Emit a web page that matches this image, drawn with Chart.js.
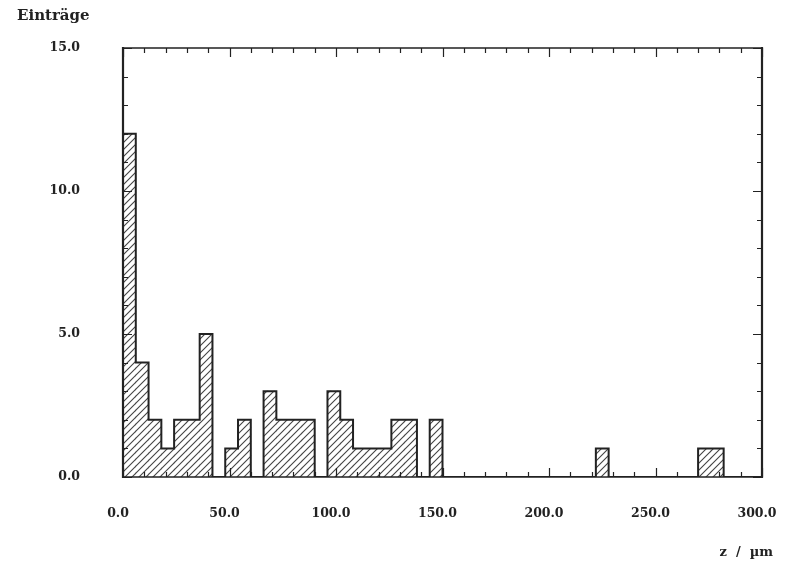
<!DOCTYPE html>
<html>
<head>
<meta charset="utf-8">
<script src="https://cdn.jsdelivr.net/npm/chart.js@4/dist/chart.umd.min.js"></script>
<style>
  html, body { margin: 0; padding: 0; background: #fff; }
  canvas { display: block; }
</style>
</head>
<body>
<canvas id="c" width="786" height="567"></canvas>
<script>
"use strict";

// ── data: histogram of z, 6 µm bins from 0 to 300 ──
const binStart = 0;
const binWidth = 6;
const counts = [
  12, 4, 2, 1, 2, 2, 5, 0, 1, 2,
   0, 3, 2, 2, 2, 0, 3, 2, 1, 1,
   1, 2, 2, 0, 2, 0, 0, 0, 0, 0,
   0, 0, 0, 0, 0, 0, 0, 1, 0, 0,
   0, 0, 0, 0, 0, 1, 1, 0, 0, 0
];
const xRange = [0, 300];
const yRange = [0, 15];
const xLabelStep = 50;
const yLabelStep = 5;

const ink  = "#222";
const FONT = "'DejaVu Serif', 'Liberation Serif', serif";

const canvas = document.getElementById("c");
const ctx = canvas.getContext("2d");

// diagonal hatch "/"
function makeHatch() {
  const t = document.createElement("canvas");
  t.width = t.height = 7;
  const g = t.getContext("2d");
  g.strokeStyle = "#444";
  g.lineWidth = 1.1;
  g.beginPath();
  g.moveTo(0, 7); g.lineTo(7, 0);
  g.moveTo(-1, 1); g.lineTo(1, -1);
  g.moveTo(6, 8); g.lineTo(8, 6);
  g.stroke();
  return ctx.createPattern(t, "repeat");
}

const barPoints = counts.map((c, i) => ({ x: binStart + i * binWidth + binWidth / 2, y: c }));

// step outline through the bin edges
const outline = [{ x: binStart, y: 0 }];
counts.forEach((c, i) => outline.push({ x: binStart + i * binWidth, y: c }));
outline.push({ x: binStart + counts.length * binWidth, y: 0 });

// frame, inner ticks and the two axis captions
const framePlugin = {
  id: "frame",
  afterDatasetsDraw(chart) {
    const { left, right, top, bottom } = chart.chartArea;
    const xs = chart.scales.x, ys = chart.scales.y;
    const g = chart.ctx;
    g.save();
    g.strokeStyle = ink;

    g.lineWidth = 1.2;
    for (let v = xRange[0]; v <= xRange[1]; v += 10) {
      const px = Math.round(xs.getPixelForValue(v)) + 0.5;
      const len = v % xLabelStep === 0 ? 9 : 5;
      g.beginPath();
      g.moveTo(px, bottom); g.lineTo(px, bottom - len);
      g.moveTo(px, top);    g.lineTo(px, top + len);
      g.stroke();
    }
    for (let v = yRange[0]; v <= yRange[1]; v += 1) {
      const py = Math.round(ys.getPixelForValue(v)) + 0.5;
      const len = v % yLabelStep === 0 ? 9 : 5;
      g.beginPath();
      g.moveTo(left, py);  g.lineTo(left + len, py);
      g.moveTo(right, py); g.lineTo(right - len, py);
      g.stroke();
    }

    g.lineWidth = 1.3;
    g.beginPath();
    g.moveTo(left, top); g.lineTo(right, top);
    g.moveTo(left, bottom); g.lineTo(right, bottom);
    g.stroke();
    g.lineWidth = 2.2;
    g.beginPath();
    g.moveTo(left, top - 1); g.lineTo(left, bottom + 1);
    g.moveTo(right, top - 1); g.lineTo(right, bottom + 1);
    g.stroke();

    g.fillStyle = ink;
    g.font = "bold 15px " + FONT;
    g.textBaseline = "middle";
    g.textAlign = "left";
    g.fillText("Einträge", 17, 16);
    g.font = "bold 13px " + FONT;
    g.textAlign = "right";
    g.fillText("z  /  µm", 773, 553);
    g.restore();
  }
};

new Chart(ctx, {
  type: "bar",
  data: {
    datasets: [
      {
        type: "line",
        data: outline,
        stepped: true,
        borderColor: ink,
        borderWidth: 2,
        pointRadius: 0,
        fill: false,
        order: 0
      },
      {
        type: "bar",
        data: barPoints,
        backgroundColor: makeHatch(),
        borderWidth: 0,
        barPercentage: 1,
        categoryPercentage: 1,
        order: 1
      }
    ]
  },
  options: {
    responsive: false,
    animation: false,
    devicePixelRatio: 1,
    layout: { padding: { left: 0, top: 48, right: 24, bottom: 0 } },
    plugins: { legend: { display: false }, tooltip: { enabled: false } },
    scales: {
      x: {
        type: "linear",
        min: xRange[0],
        max: xRange[1],
        offset: false,
        grid: { display: false },
        border: { display: false },
        ticks: {
          stepSize: xLabelStep,
          padding: 21,
          labelOffset: -5,
          maxRotation: 0,
          color: ink,
          font: { family: FONT, size: 12.5, weight: "bold" },
          callback: (v) => Number(v).toFixed(1)
        },
        afterFit: (s) => { s.height = 90; s.paddingLeft = 0; s.paddingRight = 0; }
      },
      y: {
        min: yRange[0],
        max: yRange[1],
        grid: { display: false },
        border: { display: false },
        ticks: {
          stepSize: yLabelStep,
          padding: 35,
          color: ink,
          font: { family: FONT, size: 12.5, weight: "bold" },
          callback: (v) => Number(v).toFixed(1)
        },
        afterFit: (s) => { s.width = 123; s.paddingTop = 0; s.paddingBottom = 0; }
      }
    }
  },
  plugins: [framePlugin]
});
</script>
</body>
</html>
